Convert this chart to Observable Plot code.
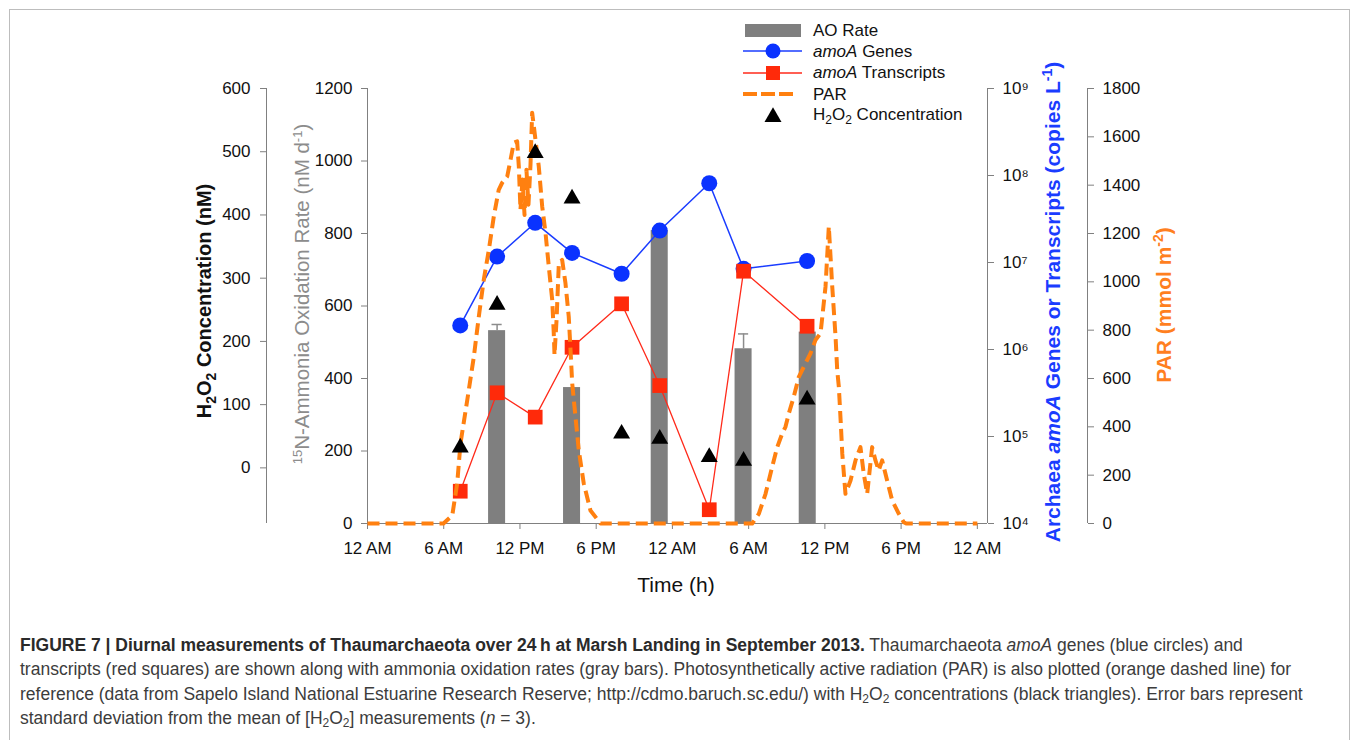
<!DOCTYPE html>
<html><head><meta charset="utf-8">
<script src="https://cdn.jsdelivr.net/npm/d3@7"></script>
<script src="https://cdn.jsdelivr.net/npm/@observablehq/plot@0.6"></script>
<style>
body{margin:0;background:#fff;font-family:"Liberation Sans",Arial,sans-serif;}
#fig{position:relative;width:1358px;height:740px;overflow:hidden;background:#fff;}
#border{position:absolute;left:9px;top:9px;width:1339px;height:760px;border:1px solid #bdbdbd;}
#caption{position:absolute;left:20px;top:633px;font-size:17.5px;line-height:24.4px;color:#3c3c3c;white-space:nowrap;}
#caption b{color:#2a2a2a;}
#caption sub{font-size:12px;vertical-align:-3px;line-height:0;}
</style></head>
<body><div id="fig"><div id="border"></div>
<div id="caption"><b>FIGURE 7 | Diurnal measurements of Thaumarchaeota over 24&#8201;h at Marsh Landing in September 2013.</b> Thaumarchaeota <i>amoA</i> genes (blue circles) and<br>transcripts (red squares) are shown along with ammonia oxidation rates (gray bars). Photosynthetically active radiation (PAR) is also plotted (orange dashed line) for<br>reference (data from Sapelo Island National Estuarine Research Reserve; http://cdmo.baruch.sc.edu/) with H<sub>2</sub>O<sub>2</sub> concentrations (black triangles). Error bars represent<br>standard deviation from the mean of [H<sub>2</sub>O<sub>2</sub>] measurements (<i>n</i> = 3).</div>
</div>
<script>
// ---------- data ----------
const xTicks = [0, 6, 12, 18, 24, 30, 36, 42, 48];
const xTickLabels = ["12 AM", "6 AM", "12 PM", "6 PM", "12 AM", "6 AM", "12 PM", "6 PM", "12 AM"];
const sampleTime = [7.3, 10.2, 13.2, 16.1, 20.0, 23.0, 26.9, 29.6, 34.6];
const amoaGenes = [1.89e6, 1.17e7, 2.86e7, 1.29e7, 7.43e6, 2.33e7, 8.15e7, 8.45e6, 1.04e7];
const amoaTranscripts = [2.35e4, 3.18e5, 1.67e5, 1.06e6, 3.35e6, 3.85e5, 1.44e4, 7.94e6, 1.85e6];
const h2o2Conc = [32, 258, 498, 426, 54, 46, 17, 11, 108];
const aoTime = [10.2, 16.1, 23.0, 29.6, 34.65];
const aoRate = [532, 375, 808, 482, 528];
const aoSD = [17, 0, 0, 41, 0];
const parTime = [0, 5.98, 6.67, 7.06, 7.32, 7.85, 8.37, 8.76, 9.15, 9.55, 9.94, 10.33, 10.60, 11.00, 11.26, 11.52, 11.78, 11.91, 12.04, 12.20, 12.36, 12.51, 12.67, 12.83, 12.96, 13.22, 13.48, 13.75, 14.01, 14.27, 14.54, 14.66, 14.72, 14.88, 15.06, 15.32, 15.58, 15.84, 15.98, 16.11, 16.37, 16.63, 17.02, 17.55, 18.34, 30.28, 30.80, 31.33, 31.85, 32.25, 32.64, 32.90, 33.16, 33.55, 33.95, 34.47, 34.87, 35.26, 35.66, 36.05, 36.31, 36.58, 36.84, 36.97, 37.10, 37.24, 37.37, 37.62, 38.02, 38.41, 38.80, 39.06, 39.33, 39.72, 39.98, 40.24, 40.51, 40.90, 41.30, 41.82, 42.21, 42.4, 48];
const parValue = [0, 0, 33, 166, 332, 510, 690, 856, 1008, 1132, 1270, 1381, 1410, 1436, 1506, 1576, 1581, 1478, 1298, 1423, 1277, 1464, 1319, 1485, 1700, 1589, 1478, 1312, 1203, 1063, 925, 788, 697, 842, 1077, 1091, 995, 856, 718, 581, 441, 303, 166, 54, 0, 0, 40, 123, 234, 316, 372, 400, 455, 524, 607, 662, 704, 759, 787, 980, 1229, 980, 773, 635, 565, 427, 289, 123, 178, 261, 316, 206, 123, 316, 261, 220, 261, 178, 95, 40, 5, 0, 0];
const aoTicks = [0, 200, 400, 600, 800, 1000, 1200];
const h2o2Ticks = [0, 100, 200, 300, 400, 500, 600];
const geneTicks = [1e4, 1e5, 1e6, 1e7, 1e8, 1e9];
const geneTickLabels = ["10\u2074", "10\u2075", "10\u2076", "10\u2077", "10\u2078", "10\u2079"];
const parTicks = [0, 200, 400, 600, 800, 1000, 1200, 1400, 1600, 1800];

// ---------- tables ----------
const samples = sampleTime.map((t, i) => ({t, genes: amoaGenes[i], tr: amoaTranscripts[i], h: h2o2Conc[i]}));
const ao = aoTime.map((t, i) => ({t, v: aoRate[i], sd: aoSD[i]}));
const aoErr = ao.filter(d => d.sd > 0);
const par = parTime.map((t, i) => ({t, v: parValue[i]}));

const fig = document.getElementById("fig");
const X_MAX = 48.8;
const AX = "#808080";
const TFS = 17;
const base = {
  width: 1358, height: 600,
  marginLeft: 367, marginRight: 371, marginTop: 88, marginBottom: 77,
  style: {background: "transparent", fontFamily: "'Liberation Sans', Arial, sans-serif", color: "#111", overflow: "visible"}
};
function addLayer(opts) {
  const svg = Plot.plot({...base, ...opts});
  svg.style.position = "absolute";
  svg.style.left = "0px";
  svg.style.top = "0px";
  svg.style.maxWidth = "none";
  fig.appendChild(svg);
}

// Layer 1: AO bars, left gray axis, x axis
addLayer({
  x: {domain: [0, X_MAX]},
  y: {domain: [0, 1200]},
  marks: [
    Plot.rect(ao, {x1: d => d.t - 0.67, x2: d => d.t + 0.67, y1: 0, y2: "v", fill: "#7f7f7f"}),
    Plot.ruleX(aoErr, {x: "t", y1: "v", y2: d => d.v + d.sd, stroke: "#8c8c8c", strokeWidth: 1.5}),
    Plot.ruleY(aoErr, {y: d => d.v + d.sd, x1: d => d.t - 0.4, x2: d => d.t + 0.4, stroke: "#8c8c8c", strokeWidth: 1.5}),
    Plot.ruleX([0], {stroke: AX}),
    Plot.ruleY([0], {stroke: AX}),
    Plot.axisY({ticks: aoTicks, tickFormat: d => String(d), tickSize: 6, tickPadding: 9, fontSize: TFS, stroke: AX, fill: "#111", label: null}),
    Plot.axisX({ticks: xTicks, tickFormat: d => xTickLabels[xTicks.indexOf(d)], tickSize: 6, tickPadding: 12, fontSize: TFS, stroke: AX, fill: "#111", label: null})
  ]
});

// Layer 2: genes / transcripts (log)
addLayer({
  x: {domain: [0, X_MAX], axis: null},
  y: {type: "log", domain: [1e4, 1e9]},
  marks: [
    Plot.ruleX([X_MAX], {stroke: AX}),
    Plot.axisY({anchor: "right", ticks: geneTicks, tickFormat: d => geneTickLabels[geneTicks.indexOf(d)], tickSize: 6, tickPadding: 9, fontSize: TFS, stroke: AX, fill: "#111", label: null}),
    Plot.line(samples, {x: "t", y: "genes", stroke: "#1a3cff", strokeWidth: 1.5}),
    Plot.line(samples, {x: "t", y: "tr", stroke: "#ff2a1a", strokeWidth: 1.3}),
    Plot.dot(samples, {x: "t", y: "genes", r: 8, fill: "#0a32ff"}),
    Plot.dot(samples, {x: "t", y: "tr", r: 8.3, symbol: "square", fill: "#ff2a0a"})
  ]
});

// Layer 3: PAR
addLayer({
  x: {domain: [0, X_MAX], axis: null},
  y: {domain: [0, 1800]},
  marks: [
    Plot.ruleX([X_MAX], {stroke: AX, dx: 100}),
    Plot.axisY({anchor: "right", dx: 100, ticks: parTicks, tickFormat: d => String(d), tickSize: 6, tickPadding: 9, fontSize: TFS, stroke: AX, fill: "#111", label: null}),
    Plot.line(par, {x: "t", y: "v", stroke: "#ff8010", strokeWidth: 4, strokeDasharray: "12,6", strokeLinecap: "butt"})
  ]
});

// Layer 4: H2O2
addLayer({
  x: {domain: [0, X_MAX], axis: null},
  y: {domain: [-88, 600]},
  marks: [
    Plot.ruleX([0], {stroke: AX, dx: -101}),
    Plot.axisY({anchor: "left", dx: -101, ticks: h2o2Ticks, tickFormat: d => String(d), tickSize: 6, tickPadding: 10, fontSize: TFS, stroke: AX, fill: "#111", label: null}),
    Plot.dot(samples, {x: "t", y: "h", r: 6.3, symbol: "triangle", fill: "#000"})
  ]
});

// Overlay: axis titles and legend
const ov = d3.select(fig).append("svg")
  .attr("width", 1358).attr("height", 600)
  .style("position", "absolute").style("left", "0px").style("top", "0px")
  .style("font-family", "'Liberation Sans', Arial, sans-serif");

// H2O2 title
{
  const t = ov.append("text").attr("transform", "translate(211,301) rotate(-90)")
    .attr("text-anchor", "middle").attr("font-size", 20).attr("font-weight", "bold").attr("fill", "#111");
  t.append("tspan").text("H");
  t.append("tspan").attr("dy", 5).attr("font-size", 14).text("2");
  t.append("tspan").attr("dy", -5).text("O");
  t.append("tspan").attr("dy", 5).attr("font-size", 14).text("2");
  t.append("tspan").attr("dy", -5).text(" Concentration (nM)");
}
// AO title
{
  const t = ov.append("text").attr("transform", "translate(309,294) rotate(-90)")
    .attr("text-anchor", "middle").attr("font-size", 20.5).attr("fill", "#8c8c8c");
  t.append("tspan").attr("dy", -7).attr("font-size", 13).text("15");
  t.append("tspan").attr("dy", 7).text("N-Ammonia Oxidation Rate (nM d");
  t.append("tspan").attr("dy", -7).attr("font-size", 13).text("-1");
  t.append("tspan").attr("dy", 7).text(")");
}
// Genes title
{
  const t = ov.append("text").attr("transform", "translate(1060,302) rotate(-90)")
    .attr("text-anchor", "middle").attr("font-size", 21).attr("font-weight", "bold").attr("fill", "#1a3cff");
  t.append("tspan").text("Archaea ");
  t.append("tspan").attr("font-style", "italic").text("amoA");
  t.append("tspan").text(" Genes or Transcripts (copies L");
  t.append("tspan").attr("dy", -8).attr("font-size", 14).text("-1");
  t.append("tspan").attr("dy", 8).text(")");
}
// PAR title
{
  const t = ov.append("text").attr("transform", "translate(1171,305) rotate(-90)")
    .attr("text-anchor", "middle").attr("font-size", 21).attr("font-weight", "bold").attr("fill", "#ff7f1f");
  t.append("tspan").text("PAR (mmol m");
  t.append("tspan").attr("dy", -8).attr("font-size", 14).text("-2");
  t.append("tspan").attr("dy", 8).text(")");
}
// Time title
ov.append("text").attr("x", 676).attr("y", 592).attr("text-anchor", "middle").attr("font-size", 21).attr("fill", "#111").text("Time (h)");

// Legend
{
  const lx = 745, tx = 813, fs = 17;
  const g = ov.append("g");
  g.append("rect").attr("x", lx).attr("y", 24).attr("width", 56).attr("height", 13).attr("fill", "#7f7f7f");
  g.append("text").attr("x", tx).attr("y", 36).attr("font-size", fs).attr("fill", "#111").text("AO Rate");
  g.append("line").attr("x1", lx - 2).attr("x2", lx + 57).attr("y1", 51).attr("y2", 51).attr("stroke", "#1a3cff").attr("stroke-width", 1.5);
  g.append("circle").attr("cx", 773).attr("cy", 51).attr("r", 7.5).attr("fill", "#0a32ff");
  { const t = g.append("text").attr("x", tx).attr("y", 57).attr("font-size", fs).attr("fill", "#111");
    t.append("tspan").attr("font-style", "italic").text("amoA"); t.append("tspan").text(" Genes"); }
  g.append("line").attr("x1", lx - 2).attr("x2", lx + 57).attr("y1", 73).attr("y2", 73).attr("stroke", "#ff2a1a").attr("stroke-width", 1.3);
  g.append("rect").attr("x", 766).attr("y", 66).attr("width", 14).attr("height", 14).attr("fill", "#ff2a0a");
  { const t = g.append("text").attr("x", tx).attr("y", 78).attr("font-size", fs).attr("fill", "#111");
    t.append("tspan").attr("font-style", "italic").text("amoA"); t.append("tspan").text(" Transcripts"); }
  g.append("line").attr("x1", lx - 2).attr("x2", lx + 50).attr("y1", 94).attr("y2", 94).attr("stroke", "#ff8010").attr("stroke-width", 4).attr("stroke-dasharray", "14,4");
  g.append("text").attr("x", tx).attr("y", 100).attr("font-size", fs).attr("fill", "#111").text("PAR");
  g.append("path").attr("d", d3.symbol(d3.symbolTriangle, 125)()).attr("transform", "translate(773,117)").attr("fill", "#000");
  { const t = g.append("text").attr("x", tx).attr("y", 120).attr("font-size", fs).attr("fill", "#111");
    t.append("tspan").text("H"); t.append("tspan").attr("dy", 4).attr("font-size", 12).text("2");
    t.append("tspan").attr("dy", -4).text("O"); t.append("tspan").attr("dy", 4).attr("font-size", 12).text("2");
    t.append("tspan").attr("dy", -4).text(" Concentration"); }
}
</script>
</body></html>
